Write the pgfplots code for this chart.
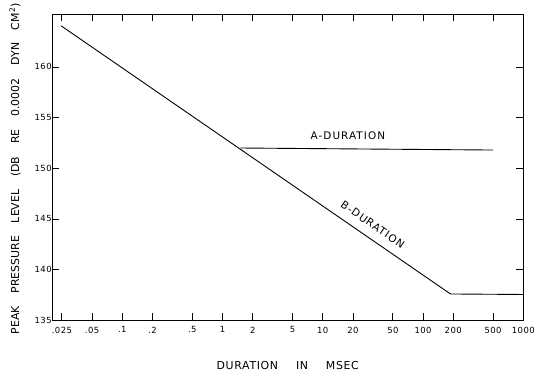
\documentclass[border=0pt]{standalone}
\usepackage{pgfplots}
\pgfplotsset{compat=1.18}
\usepackage{fontspec}
\setmainfont{DejaVu Sans}
\newfontfamily\tickfont[LetterSpace=5]{DejaVu Sans}
\newfontfamily\lblfont[LetterSpace=6]{DejaVu Sans}
\newfontfamily\annfont[LetterSpace=10]{DejaVu Sans}
\begin{document}
\begin{tikzpicture}
\begin{axis}[name=ax,
  scale only axis, width=474pt, height=308pt,
  xmode=log, log basis x=10,
  xmin=0.02, xmax=1000, ymin=135, ymax=165.2,
  xtick={0.025,0.05,0.1,0.2,0.5,1,2,5,10,20,50,100,200,500,1000},
  xticklabels={.025,.05,.1,.2,.5,1,2,5,10,20,50,100,200,500,1000},
  xminorticks=false, yminorticks=false,
  ytick={135,140,145,150,155,160},
  /pgf/number format/assume math mode=true,
  tick align=inside, major tick length=7pt,
  tick style={black, line width=0.8pt},
  axis line style={line width=1.3pt},
  xticklabel style={font=\tickfont\fontsize{8.5}{9}\selectfont, yshift=-3pt},
  yticklabel style={font=\tickfont\fontsize{8.5}{9}\selectfont, xshift=3pt},
  clip=false,
]
\addplot[black, line width=0.9pt] coordinates {(0.0245,164.06) (188,137.6) (1000,137.55)};
\addplot[black, line width=0.9pt] coordinates {(1.51,152.0) (500,151.8)};
\node[font=\annfont\fontsize{10.5}{12}\selectfont] at (axis cs:17.8,153.2) {A-DURATION};
\node[font=\annfont\fontsize{10.5}{12}\selectfont, rotate=-34.6] at (axis cs:31.5,144.45) {B-DURATION};
\node[rotate=90, font=\fontsize{11}{12}\selectfont] at ([xshift=-37.5pt]rel axis cs:0,0.495)
  {\makebox[333pt][s]{PEAK PRESSURE LEVEL (DB RE 0.0002 DYN CM\textsuperscript{2})}};
\node[font=\lblfont\fontsize{11}{12}\selectfont] at ([yshift=-45pt]rel axis cs:0.5,0)
  {\makebox[143pt][s]{DURATION IN MSEC}};
\end{axis}
\path ([shift={(-52.5pt,-55.5pt)}]ax.south west) rectangle ([shift={(11.5pt,11pt)}]ax.north east);
\end{tikzpicture}
\end{document}
